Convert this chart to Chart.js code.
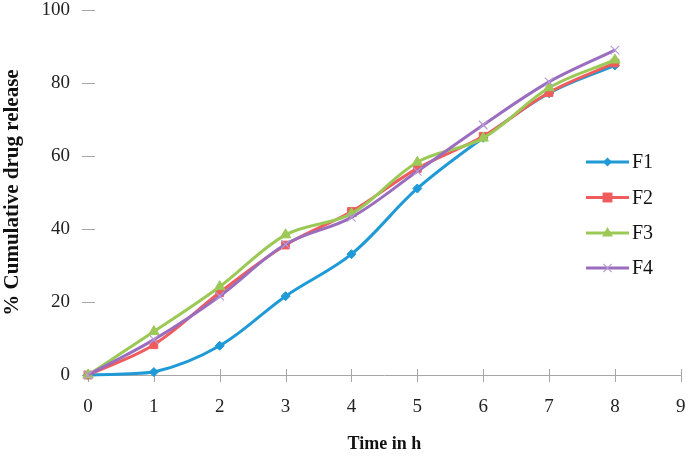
<!DOCTYPE html>
<html>
<head>
<meta charset="utf-8">
<script src="https://cdn.jsdelivr.net/npm/chart.js@4.4.1/dist/chart.umd.min.js"></script>
<style>
html,body{margin:0;padding:0;background:#fff;}
#wrap{width:688px;height:456px;position:relative;}
</style>
</head>
<body>
<div id="wrap"><canvas id="c" width="688" height="456"></canvas></div>
<script>
const timeHours = [0, 1, 2, 3, 4, 5, 6, 7, 8];
const seriesNames = ['F1', 'F2', 'F3', 'F4'];
const f1Values = [0, 0.8, 8, 21.6, 33.1, 51.1, 65, 77.2, 84.8];
const f2Values = [0, 8.3, 22.6, 35.6, 44.8, 56.6, 65.4, 77.4, 85.5];
const f3Values = [0, 11.9, 24.2, 38.4, 44.2, 58.3, 64.9, 78.7, 86.3];
const f4Values = [0, 9.7, 21.6, 35.8, 43.2, 55.8, 68.5, 80.3, 89];
const xTickValues = [0, 1, 2, 3, 4, 5, 6, 7, 8, 9];
const yTickValues = [0, 20, 40, 60, 80, 100];

const colors = ['#1f9ad6', '#f05b5b', '#9cc956', '#9a6dbf'];
const pointStyles = ['rectRot', 'rect', 'triangle', 'crossRot'];
const pointRadii = [4.5, 5.5, 6, 6];
const serif = '"Liberation Serif", "Times New Roman", serif';

const allValues = [f1Values, f2Values, f3Values, f4Values];
const datasets = allValues.map((vals, i) => ({
  label: seriesNames[i],
  data: timeHours.map((t, j) => ({x: t, y: vals[j]})),
  borderColor: colors[i],
  backgroundColor: colors[i],
  pointBorderColor: i === 3 ? '#b79bd4' : colors[i],
  pointBackgroundColor: colors[i],
  pointStyle: pointStyles[i],
  pointRadius: pointRadii[i],
  pointBorderWidth: i === 3 ? 1.2 : 1,
  borderWidth: 3,
  tension: 0.35,
  clip: false,
  order: 3 - i
}));

const axisColor = '#a6a6a6';

const axisPlugin = {
  id: 'axisTicks',
  beforeDatasetsDraw(chart) {
    const ctx = chart.ctx;
    const xs = chart.scales.x, ys = chart.scales.y;
    const a = chart.chartArea;
    ctx.save();
    ctx.strokeStyle = axisColor;
    ctx.lineWidth = 1;
    ctx.beginPath();
    ctx.moveTo(a.left, a.bottom + 0.5);
    ctx.lineTo(a.right, a.bottom + 0.5);
    ctx.stroke();
    xTickValues.forEach(v => {
      const px = Math.round(xs.getPixelForValue(v)) + 0.5;
      ctx.beginPath();
      ctx.moveTo(px, a.bottom - 6);
      ctx.lineTo(px, a.bottom + 7);
      ctx.stroke();
    });
    yTickValues.forEach(v => {
      const py = Math.round(ys.getPixelForValue(v)) + 0.5;
      ctx.beginPath();
      ctx.moveTo(a.left - 6, py);
      ctx.lineTo(a.left + 7, py);
      ctx.stroke();
    });
    ctx.restore();
  }
};

function drawMarker(ctx, style, x, y, r, fill, stroke) {
  ctx.save();
  ctx.fillStyle = fill;
  ctx.strokeStyle = stroke;
  ctx.lineWidth = 1.2;
  ctx.beginPath();
  if (style === 'rectRot') {
    ctx.moveTo(x, y - r); ctx.lineTo(x + r, y); ctx.lineTo(x, y + r); ctx.lineTo(x - r, y); ctx.closePath(); ctx.fill();
  } else if (style === 'rect') {
    const s = r * 0.9; ctx.rect(x - s, y - s, 2 * s, 2 * s); ctx.fill();
  } else if (style === 'triangle') {
    ctx.moveTo(x, y - r); ctx.lineTo(x + r * 0.9, y + r * 0.6); ctx.lineTo(x - r * 0.9, y + r * 0.6); ctx.closePath(); ctx.fill();
  } else {
    const s = r * 0.7;
    ctx.moveTo(x - s, y - s); ctx.lineTo(x + s, y + s); ctx.moveTo(x + s, y - s); ctx.lineTo(x - s, y + s); ctx.stroke();
  }
  ctx.restore();
}

const legendPlugin = {
  id: 'customLegend',
  afterDraw(chart) {
    const ctx = chart.ctx;
    const x0 = 586, x1 = 629, tx = 632;
    const ys = [162, 197.5, 233, 268];
    ctx.save();
    chart.data.datasets.forEach((ds, i) => {
      const y = ys[i];
      ctx.strokeStyle = ds.borderColor;
      ctx.lineWidth = 3;
      ctx.beginPath();
      ctx.moveTo(x0, y); ctx.lineTo(x1, y); ctx.stroke();
      drawMarker(ctx, ds.pointStyle, (x0 + x1) / 2, y, ds.pointRadius, ds.pointBackgroundColor, ds.pointBorderColor);
      ctx.fillStyle = '#111';
      ctx.font = '20px ' + serif;
      ctx.textBaseline = 'middle';
      ctx.textAlign = 'left';
      ctx.fillText(ds.label, tx, y + 1);
    });
    ctx.restore();
  }
};

new Chart(document.getElementById('c'), {
  type: 'line',
  data: { datasets },
  options: {
    responsive: false,
    animation: false,
    devicePixelRatio: 1,
    layout: { padding: { left: 0, right: 7, top: 10, bottom: 0 } },
    plugins: { legend: { display: false }, tooltip: { enabled: false } },
    scales: {
      x: {
        type: 'linear', min: 0, max: 9,
        afterFit(s) { s.height = 81; s.paddingLeft = 0; s.paddingRight = 0; },
        afterBuildTicks(s) { s.ticks = xTickValues.map(v => ({ value: v })); },
        grid: { display: false },
        border: { display: false },
        ticks: { color: '#222', font: { family: serif, size: 19 }, padding: 13, maxRotation: 0 },
        title: { display: true, text: 'Time in h', color: '#111', font: { family: serif, size: 18, weight: 'bold' }, padding: { top: 0, bottom: 1 } }
      },
      y: {
        type: 'linear', min: 0, max: 100,
        afterFit(s) { s.width = 88; s.paddingTop = 0; s.paddingBottom = 0; },
        afterBuildTicks(s) { s.ticks = yTickValues.map(v => ({ value: v })); },
        grid: { display: false },
        border: { display: false },
        ticks: { color: '#222', font: { family: serif, size: 19 }, padding: 10 },
        title: { display: true, text: '% Cumulative drug release', color: '#111', font: { family: serif, size: 21, weight: 'bold' }, padding: { top: 0, bottom: 0 } }
      }
    }
  },
  plugins: [axisPlugin, legendPlugin]
});
</script>
</body>
</html>
